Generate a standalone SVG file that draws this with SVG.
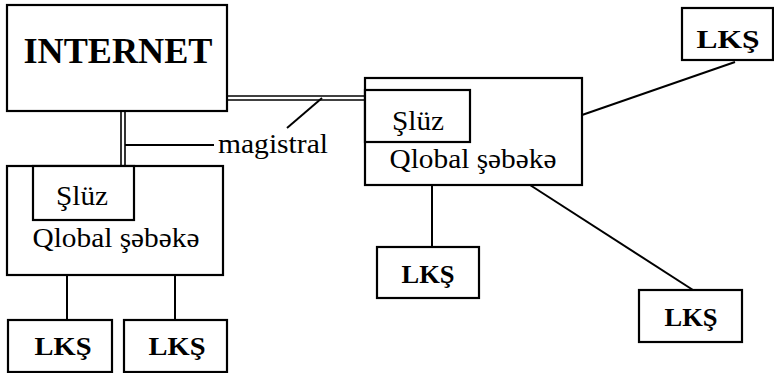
<svg xmlns="http://www.w3.org/2000/svg" width="774" height="373" viewBox="0 0 774 373">
<style>
.box{fill:#fff;stroke:#000;stroke-width:2.2}
.ln{stroke:#000;stroke-width:2;fill:none}
.dl{stroke:#000;stroke-width:1.6;fill:none}
.t{font-family:"Liberation Serif","Times New Roman",serif;fill:#000}
.b{font-weight:bold}
</style>
<rect width="774" height="373" fill="#fff"/>
<g id="connectors">
<line class="dl" x1="121" y1="111" x2="121" y2="166"/>
<line class="dl" x1="125" y1="111" x2="125" y2="166"/>
<line class="dl" x1="227" y1="96" x2="366" y2="96"/>
<line class="dl" x1="227" y1="100" x2="366" y2="100"/>
<line class="ln" x1="125" y1="145" x2="214" y2="145"/>
<line class="ln" x1="287" y1="128" x2="322" y2="98"/>
<line class="ln" x1="67" y1="275" x2="67" y2="320"/>
<line class="ln" x1="175" y1="275" x2="175" y2="320"/>
<line class="ln" x1="582" y1="115" x2="735" y2="62"/>
<line class="ln" x1="432" y1="185" x2="432" y2="247"/>
<line class="ln" x1="530" y1="185" x2="693" y2="290"/>
</g>
<text class="t" x="218" y="153" font-size="28" textLength="110" lengthAdjust="spacingAndGlyphs">magistral</text>
<g id="internet">
<rect class="box" x="7" y="5" width="220" height="106"/>
<text class="t b" x="118" y="63" font-size="36" text-anchor="middle" textLength="189" lengthAdjust="spacingAndGlyphs">INTERNET</text>
</g>
<g id="global-left">
<rect class="box" x="7" y="166" width="216" height="109"/>
<text class="t" x="116" y="247" font-size="27" text-anchor="middle" textLength="167" lengthAdjust="spacingAndGlyphs">Qlobal şəbəkə</text>
</g>
<g id="sluz-left">
<rect class="box" x="33" y="166" width="101" height="54"/>
<text class="t" x="82" y="205" font-size="28" text-anchor="middle" textLength="52" lengthAdjust="spacingAndGlyphs">Şlüz</text>
</g>
<g id="global-right">
<rect class="box" x="365" y="78" width="217" height="107"/>
<text class="t" x="473" y="168" font-size="27" text-anchor="middle" textLength="167" lengthAdjust="spacingAndGlyphs">Qlobal şəbəkə</text>
</g>
<g id="sluz-right">
<rect class="box" x="365" y="90" width="105" height="52"/>
<text class="t" x="418" y="130" font-size="28" text-anchor="middle" textLength="52" lengthAdjust="spacingAndGlyphs">Şlüz</text>
</g>
<g id="lks-1">
<rect class="box" x="8" y="320" width="104" height="52"/>
<text class="t b" x="63" y="355" font-size="26" text-anchor="middle" textLength="57" lengthAdjust="spacingAndGlyphs">LKŞ</text>
</g>
<g id="lks-2">
<rect class="box" x="124" y="320" width="103" height="52"/>
<text class="t b" x="177" y="355" font-size="26" text-anchor="middle" textLength="57" lengthAdjust="spacingAndGlyphs">LKŞ</text>
</g>
<g id="lks-3">
<rect class="box" x="682" y="8" width="91" height="52"/>
<text class="t b" x="728" y="48" font-size="26" text-anchor="middle" textLength="63" lengthAdjust="spacingAndGlyphs">LKŞ</text>
</g>
<g id="lks-4">
<rect class="box" x="377" y="247" width="102" height="51"/>
<text class="t b" x="428" y="283" font-size="26" text-anchor="middle" textLength="53" lengthAdjust="spacingAndGlyphs">LKŞ</text>
</g>
<g id="lks-5">
<rect class="box" x="639" y="290" width="103" height="52"/>
<text class="t b" x="691" y="326" font-size="26" text-anchor="middle" textLength="53" lengthAdjust="spacingAndGlyphs">LKŞ</text>
</g>
</svg>
